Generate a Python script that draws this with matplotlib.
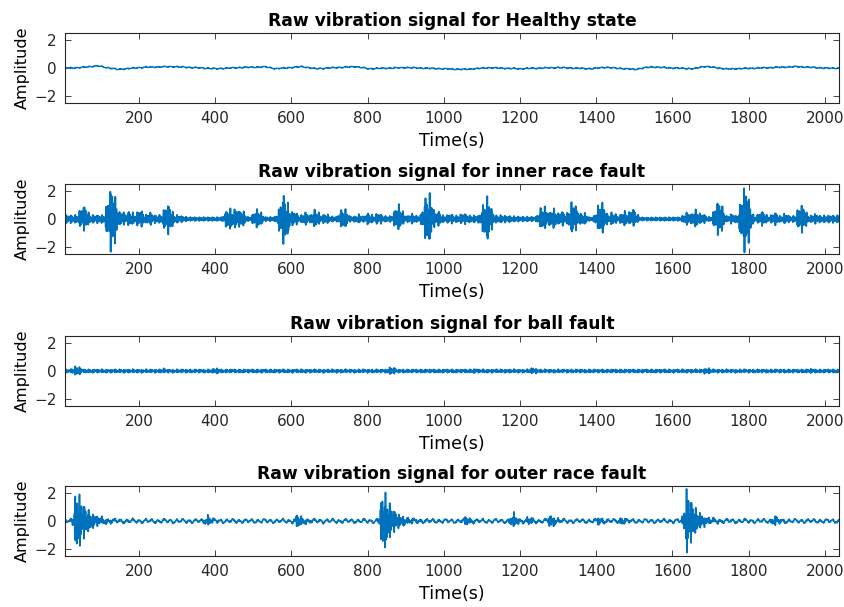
#!/usr/bin/env python3
import numpy as np
import matplotlib

matplotlib.use("Agg")
import matplotlib.pyplot as plt

N_SAMPLES = 2048
X_LIMITS = (6, 2037)
X_TICKS = [200, 400, 600, 800, 1000, 1200, 1400, 1600, 1800, 2000]
Y_TICKS = [-2, 0, 2]

TITLES = [
    "Raw vibration signal for Healthy state",
    "Raw vibration signal for inner race fault",
    "Raw vibration signal for ball fault",
    "Raw vibration signal for outer race fault",
]

# healthy state: slow wander (sample, amplitude)
HEALTHY_T = [1, 40, 90, 145, 210, 290, 403, 470, 533, 559, 628, 663, 768, 803, 900,
             1052, 1120, 1196, 1300, 1387, 1422, 1500, 1543, 1600, 1657, 1683, 1743,
             1850, 1926, 2012, 2048]
HEALTHY_V = [0.0, 0.02, 0.15, -0.10, 0.05, 0.10, -0.05, 0.04, 0.08, -0.05, 0.10, -0.05,
             0.10, -0.05, 0.03, -0.10, 0.02, -0.05, 0.03, -0.05, 0.05, -0.10, 0.08, 0.0,
             -0.05, 0.12, -0.07, 0.02, 0.10, -0.02, 0.0]

# inner race fault: burst centre, positive peak, negative peak
INNER_C = [55, 129, 155, 177, 203, 229, 276, 437, 456, 468, 511, 581, 607, 637, 663,
           690, 737, 777, 803, 829, 881, 916, 959, 985, 1017, 1052, 1113, 1261, 1287,
           1309, 1339, 1365, 1413, 1443, 1474, 1496, 1639, 1661, 1678, 1722, 1756,
           1791, 1835, 1869, 1896, 1939, 1974, 2017]
INNER_UP = [1.05, 2.45, 0.6, 0.6, 0.7, 0.5, 1.15, 0.8, 0.8, 0.7, 0.75, 1.85, 0.6, 0.5,
            0.7, 0.4, 0.8, 0.35, 0.45, 0.45, 1.1, 0.4, 2.0, 0.6, 0.4, 0.45, 1.65, 1.0,
            0.8, 0.6, 1.3, 0.5, 1.3, 0.5, 0.6, 0.8, 0.5, 0.7, 0.4, 1.4, 0.4, 2.5, 0.6,
            0.5, 0.4, 1.1, 0.4, 0.3]
INNER_DN = [0.85, 2.45, 0.5, 0.5, 0.6, 0.45, 1.1, 0.8, 0.7, 0.6, 0.65, 1.85, 0.5, 0.45,
            0.6, 0.35, 0.7, 0.3, 0.4, 0.4, 0.8, 0.35, 1.9, 0.5, 0.35, 0.4, 1.65, 0.8,
            0.7, 0.5, 1.1, 0.45, 1.1, 0.45, 0.5, 0.5, 0.45, 0.6, 0.35, 1.2, 0.35, 2.5,
            0.5, 0.45, 0.35, 1.0, 0.35, 0.3]
INNER_BASE_T = [1, 300, 330, 420, 1150, 1200, 1520, 1620, 2048]
INNER_BASE_V = [0.3, 0.3, 0.14, 0.14, 0.28, 0.18, 0.12, 0.14, 0.28]

# ball fault: small blobs on a quiet base
BALL_C = [37, 263, 403, 863, 1083, 1235, 1691, 1961]
BALL_UP = [0.38, 0.18, 0.22, 0.3, 0.18, 0.24, 0.24, 0.18]
BALL_DN = [0.32, 0.15, 0.2, 0.26, 0.15, 0.2, 0.22, 0.15]
BALL_BASE = 0.12

# outer race fault: impulse centre, positive peak, negative peak, decay length
OUTER_C = [38, 381, 618, 842, 1060, 1183, 1226, 1283, 1408, 1469, 1639, 1687, 1869]
OUTER_UP = [2.45, 0.4, 0.45, 2.5, 0.3, 0.6, 0.3, 0.5, 0.25, 0.25, 2.5, 0.3, 0.35]
OUTER_DN = [2.45, 0.3, 0.5, 2.5, 0.3, 0.5, 0.3, 0.5, 0.25, 0.25, 2.4, 0.3, 0.35]
OUTER_TAU = [26, 10, 14, 24, 10, 10, 8, 10, 10, 8, 22, 8, 10]
OUTER_BASE = 0.16

LINE_COLOR = "#0072BD"
AX_COLOR = "#262626"

t = np.arange(1, N_SAMPLES + 1)
fast = 0.6 * np.sin(2 * np.pi * 0.371 * t) + 0.4 * np.sin(2 * np.pi * 0.457 * t + 0.5)
fast = fast / np.abs(fast).max()
slow = (0.6 * np.sin(2 * np.pi * 0.061 * t) + 0.25 * np.sin(2 * np.pi * 0.023 * t + 0.4)
        + 0.15 * np.sin(2 * np.pi * 0.137 * t + 1.1))
slow = slow / np.abs(slow).max()


def gauss_env(centers, up, dn, width):
    eu = np.zeros(N_SAMPLES)
    ed = np.zeros(N_SAMPLES)
    for c, u, d in zip(centers, up, dn):
        g = np.exp(-0.5 * ((t - c) / width) ** 2)
        eu = np.maximum(eu, u * g)
        ed = np.maximum(ed, d * g)
    return eu, ed


def impulse_env(centers, up, dn, taus):
    eu = np.zeros(N_SAMPLES)
    ed = np.zeros(N_SAMPLES)
    for c, u, d, tau in zip(centers, up, dn, taus):
        g = np.where(t < c, np.exp(-0.5 * ((t - c) / 6.0) ** 2), np.exp(-(t - c) / tau))
        eu = np.maximum(eu, u * g)
        ed = np.maximum(ed, d * g)
    return eu, ed


def modulate(carrier, eu, ed):
    return carrier * np.where(carrier > 0, eu, ed)


healthy = np.interp(t, HEALTHY_T, HEALTHY_V) + 0.04 * slow + 0.035 * fast

eu, ed = gauss_env(INNER_C, INNER_UP, INNER_DN, 10.5)
base = np.interp(t, INNER_BASE_T, INNER_BASE_V)
inner = modulate(fast, np.maximum(eu, base), np.maximum(ed, base))

eu, ed = gauss_env(BALL_C, BALL_UP, BALL_DN, 11.0)
ball = modulate(fast, np.maximum(eu, BALL_BASE), np.maximum(ed, BALL_BASE)) + 0.03 * slow

eu, ed = impulse_env(OUTER_C, OUTER_UP, OUTER_DN, OUTER_TAU)
outer = modulate(fast, eu, ed) + OUTER_BASE * slow * (1 - np.minimum(eu, 1)) + 0.04 * fast

signals = [healthy, inner, ball, outer]
widths = [0.9, 1.3, 1.2, 1.2]

plt.rcParams.update({"font.family": "DejaVu Sans", "font.size": 11})

fig = plt.figure(figsize=(8.45, 6.07), dpi=100)
bottoms = [0.8303, 0.5815, 0.3311, 0.0840]
for title, sig, lw, b in zip(TITLES, signals, widths, bottoms):
    ax = fig.add_axes([0.0769, b, 0.916, 0.1153])
    ax.plot(t, sig, color=LINE_COLOR, linewidth=lw)
    ax.set_xlim(*X_LIMITS)
    ax.set_ylim(-2.5, 2.5)
    ax.set_xticks(X_TICKS)
    ax.set_yticks(Y_TICKS)
    ax.tick_params(direction="in", top=True, right=True, length=4, width=0.6,
                   colors=AX_COLOR, labelsize=11, pad=6)
    for s in ax.spines.values():
        s.set_color(AX_COLOR)
        s.set_linewidth(0.8)
    ax.set_title(title, fontsize=12.3, fontweight="bold", pad=5)
    ax.set_xlabel("Time(s)", fontsize=12.5, labelpad=4)
    ax.set_ylabel("Amplitude", fontsize=11.5, labelpad=3)

fig.savefig("out.png", dpi=100)
plt.close(fig)
